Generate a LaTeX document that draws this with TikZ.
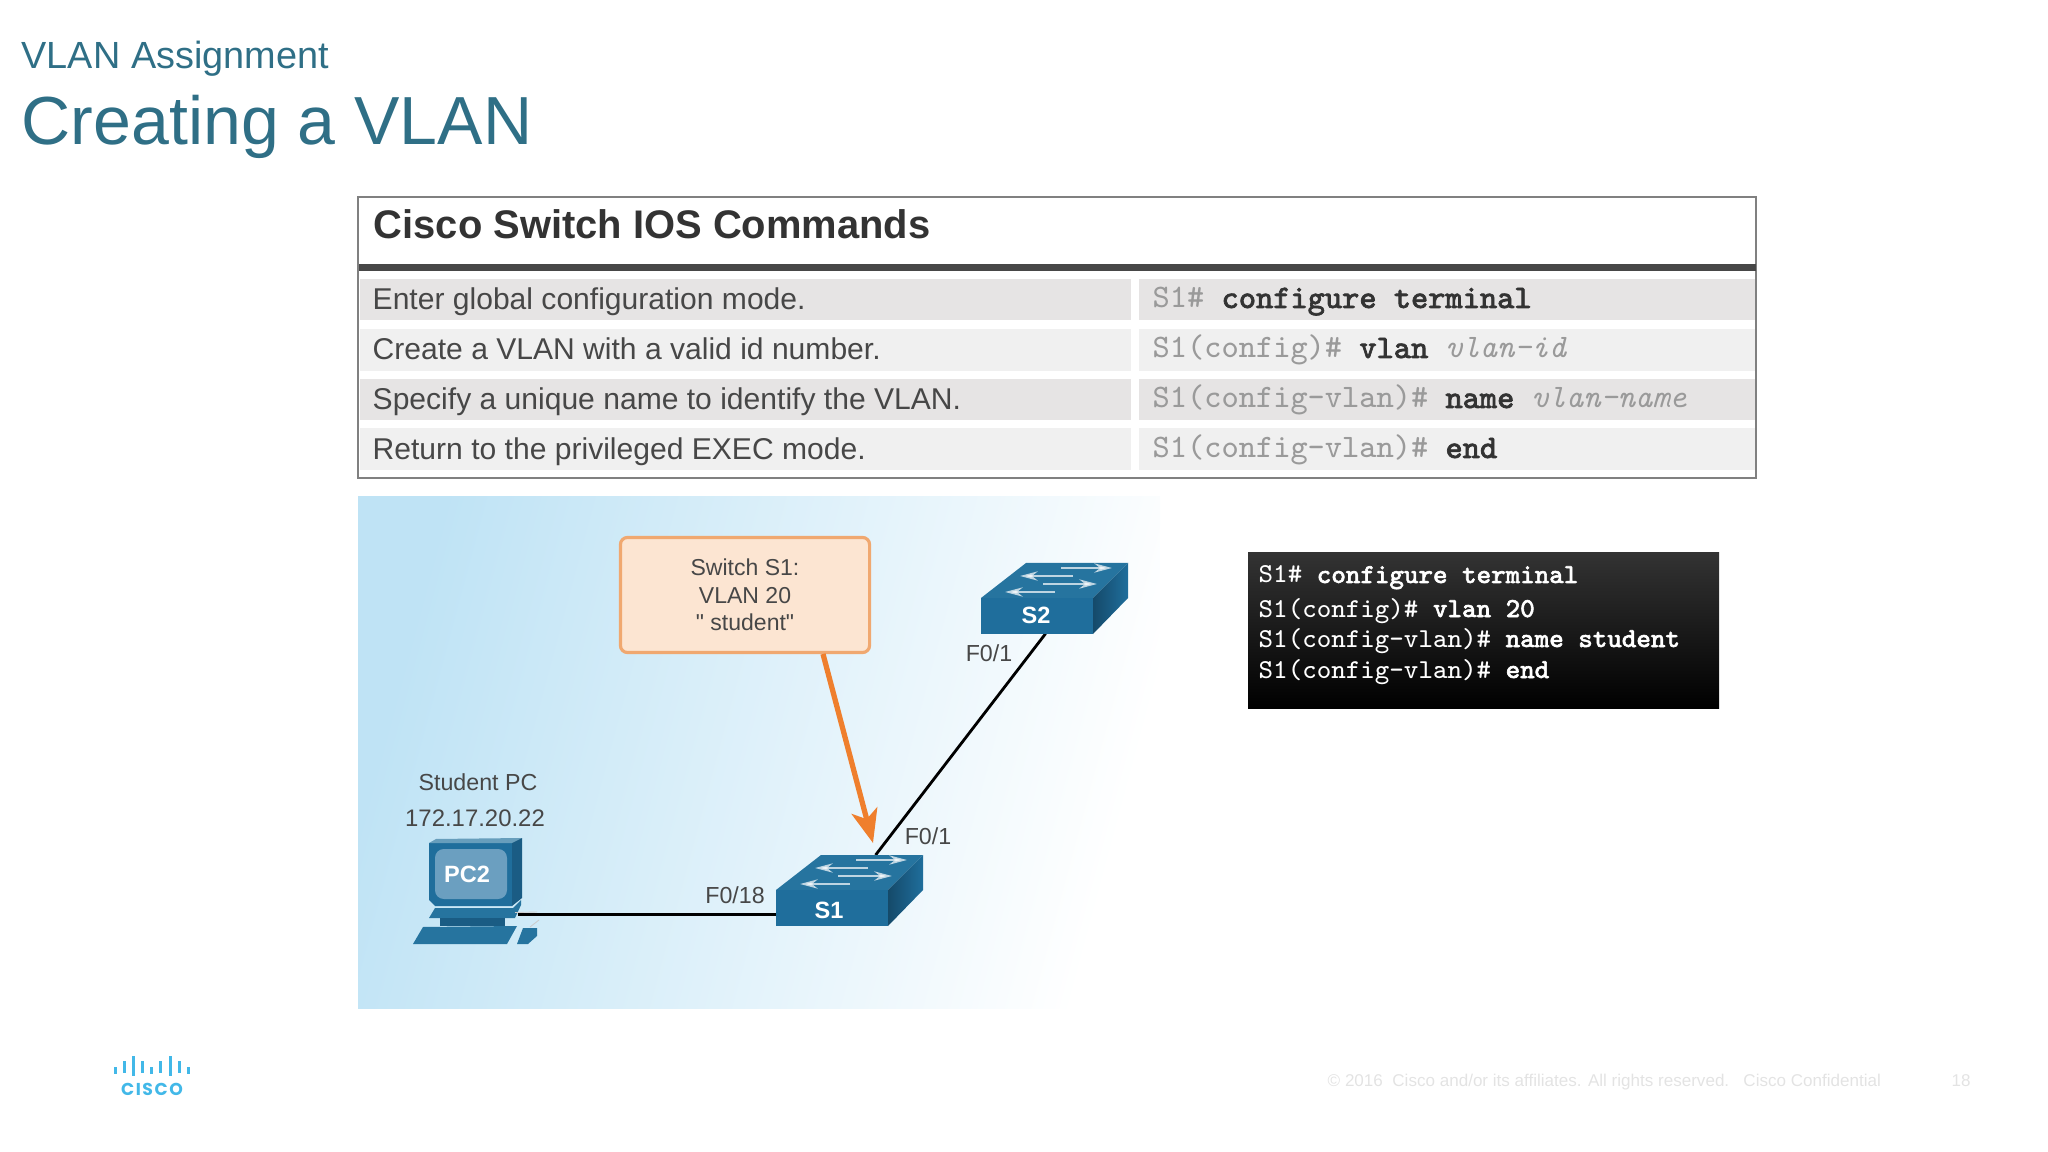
\documentclass[tikz,border=0pt]{standalone}
\usepackage{fontspec}
\setmainfont{Liberation Sans}
\newfontfamily\logofont[LetterSpace=9]{Poppins}
\newfontfamily\straightquote{Liberation Sans}
\newfontfamily\cmdheavy[FakeBold=2.2]{Latin Modern Mono}
\usetikzlibrary{arrows.meta}

\definecolor{slideteal}{HTML}{2F6F86}
\definecolor{rowdark}{HTML}{E6E4E4}
\definecolor{rowlight}{HTML}{F0F0F0}
\definecolor{promptgray}{HTML}{9A9A9A}
\definecolor{labelgray}{HTML}{474747}
\definecolor{skyleft}{HTML}{BFE3F5}
\definecolor{skymiddle}{HTML}{E4F2FB}
\definecolor{peachfill}{HTML}{FCE5D2}
\definecolor{peachline}{HTML}{F0A870}
\definecolor{switchfront}{HTML}{1F6E9C}
\definecolor{switchtop}{HTML}{26749F}
\definecolor{switchside}{HTML}{1A5C84}
\definecolor{screenblue}{HTML}{6B9FC0}
\definecolor{logoblue}{HTML}{42B8E8}
\definecolor{arroworange}{HTML}{EF7F2D}

\newcommand{\sized}[1]{\fontsize{#1}{#1}\selectfont}
\newcommand{\typedcmd}[1]{\textcolor{black!80}{\cmdheavy #1}}

\tikzset{
  plaintext/.style={inner sep=0, anchor=base west},
  rowtext/.style={plaintext, text=labelgray, font=\sized{8.55}},
  cmdtext/.style={plaintext, text=promptgray, font=\ttfamily\sized{9.33}},
  termtext/.style={plaintext, text=white, font=\ttfamily\sized{7.78}},
  netlabel/.style={inner sep=0, anchor=base, text=labelgray, font=\sized{6.6}},
  iconlabel/.style={inner sep=0, text=white, font=\bfseries\sized{6.7}},
  flowarrow/.style={white, opacity=0.7, line width=0.8pt, -{Stealth[length=5pt,width=2.6pt]}},
  switchicon/.pic={
    \fill[switchfront] (0,0) rectangle (112,36);
    \fill[switchtop] (0,0) -- (45,-35) -- (147,-35) -- (112,0) -- cycle;
    \shade[left color=switchside!80!black, right color=switchfront] (112,0) -- (147,-35) -- (147,0) -- (112,36) -- cycle;
    \draw[flowarrow] (80,-30) -- (131,-30);
    \draw[flowarrow] (92,-22) -- (39,-22);
    \draw[flowarrow] (62,-14) -- (116,-14);
    \draw[flowarrow] (74,-6) -- (24,-6);
  }
}

\begin{document}
\begin{tikzpicture}[x=0.01cm, y=-0.01cm]
  \useasboundingbox (0,0) rectangle (2048,1152);

  % slide title
  \node[plaintext, text=slideteal, font=\sized{10.76}] (subtitle) at (21,69) {VLAN Assignment};
  \node[plaintext, text=slideteal, font=\sized{19.35}] (title) at (21,145) {Creating a VLAN};

  % commands table
  \draw[gray, line width=0.4pt] (358,197) rectangle (1756,478);
  \fill[black!72] (359,264) rectangle (1756,271);
  \node[plaintext, text=black!80, font=\bfseries\sized{11.35}] (tablehead) at (373,239) {Cisco Switch IOS Commands};

  \fill[rowdark] (360,279) rectangle (1131,320);
  \fill[rowdark] (1139,279) rectangle (1755,320);
  \fill[rowlight] (360,329) rectangle (1131,371);
  \fill[rowlight] (1139,329) rectangle (1755,371);
  \fill[rowdark] (360,379) rectangle (1131,420);
  \fill[rowdark] (1139,379) rectangle (1755,420);
  \fill[rowlight] (360,428) rectangle (1131,470);
  \fill[rowlight] (1139,428) rectangle (1755,470);

  \node[rowtext] (stepa) at (372,310) {Enter global configuration mode.};
  \node[rowtext] (stepb) at (372,360) {Create a VLAN with a valid id number.};
  \node[rowtext] (stepc) at (372,409.5) {Specify a unique name to identify the VLAN.};
  \node[rowtext] (stepd) at (372,459.5) {Return to the privileged EXEC mode.};

  \node[cmdtext] (cmda) at (1152,308) {S1\# \typedcmd{configure terminal}};
  \node[cmdtext] (cmdb) at (1152,358) {S1(config)\# \typedcmd{vlan} \itshape vlan-id};
  \node[cmdtext] (cmdc) at (1152,408) {S1(config-vlan)\# \typedcmd{name} \itshape vlan-name};
  \node[cmdtext] (cmdd) at (1152,458) {S1(config-vlan)\# \typedcmd{end}};

  % topology background
  \shade[left color=skyleft, middle color=skymiddle, right color=white, shading angle=75] (358,497) rectangle (1160,1008);

  % links
  \coordinate (s1top) at (875.6,855);
  \coordinate (s2foot) at (1045.6,633.6);
  \coordinate (s1port) at (776,914.7);
  \coordinate (pcport) at (518,914.7);
  \draw[black, line width=0.8pt] (s1top) -- (s2foot);
  \draw[black, line width=0.8pt] (pcport) -- (s1port);

  % switches
  \pic at (776,890) {switchicon};
  \pic at (981,598) {switchicon};
  \node[iconlabel] (s1) at (829,910) {S1};
  \node[iconlabel] (s2) at (1036,615) {S2};

  % student pc
  \fill[switchfront] (429,843) -- (512,843) -- (512,906) -- (435,906) -- (429,900) -- cycle;
  \fill[switchtop!70!white] (429,843) -- (436,839) -- (522,838) -- (512,843) -- cycle;
  \fill[switchside] (512,843) -- (522,838) -- (522,898) -- (512,906) -- cycle;
  \fill[screenblue, rounded corners=2.5pt] (435,849) rectangle (507,899);
  \node[iconlabel] (pc) at (467,874) {PC2};
  \fill[switchtop] (429,918) -- (435,908) -- (513,908) -- (521,900) -- (521,905) -- (515,918) -- cycle;
  \fill[switchside] (440,918) -- (505,918) -- (505,926) -- (440,926) -- cycle;
  \fill[switchtop] (413,944) -- (423,927) -- (517,926) -- (507,944) -- cycle;
  \fill[switchtop] (517,944) -- (523,928) -- (537,928) -- (537,936) -- (528,944) -- cycle;
  \draw[white!60!gray, line width=0.25pt] (515,912.5) -- (537,912);
  \draw[white!60!gray, line width=0.25pt] (530,927) -- (539,920);

  % labels
  \node[netlabel] (pcname) at (478,790) {Student PC};
  \node[netlabel, font=\sized{6.8}] (pcaddr) at (475,826) {172.17.20.22};
  \node[netlabel] (porta) at (735,903) {F0/18};
  \node[netlabel] (portb) at (928,844) {F0/1};
  \node[netlabel] (portc) at (989,661) {F0/1};

  % callout
  \node[draw=peachline, fill=peachfill, line width=0.9pt, rounded corners=2pt,
        minimum width=2.49cm, minimum height=1.15cm, align=center, text=labelgray,
        font=\fontsize{6.55}{7.8}\selectfont] (callout) at (745,595) {Switch S1:\\VLAN 20\\{\straightquote"} student{\straightquote"}};
  \coordinate (calloutfoot) at (823,654);
  \coordinate (s1tip) at (873,843);
  \draw[arroworange, line width=1.5pt, -{Stealth[length=9.5pt,width=7.5pt,inset=2.5pt]}] (calloutfoot) -- (s1tip);

  % terminal output
  \shade[top color=black!80, bottom color=black] (1248,553) rectangle (1719,708);
  \node[termtext] (terma) at (1258,583) {S1\# {\cmdheavy configure terminal}};
  \node[termtext] (termb) at (1258,617) {S1(config)\# {\cmdheavy vlan 20}};
  \node[termtext] (termc) at (1258,647) {S1(config-vlan)\# {\cmdheavy name student}};
  \node[termtext] (termd) at (1258,678) {S1(config-vlan)\# {\cmdheavy end}};

  % footer
  \fill[logoblue] (113.5,1066.5) rectangle (116.5,1073.5);
  \fill[logoblue] (122.5,1061) rectangle (125.5,1073);
  \fill[logoblue] (131.8,1056) rectangle (134.8,1076);
  \fill[logoblue] (140.8,1061) rectangle (143.8,1073);
  \fill[logoblue] (150.2,1066.5) rectangle (153.2,1073.5);
  \fill[logoblue] (159.2,1061) rectangle (162.2,1073);
  \fill[logoblue] (168.5,1056) rectangle (171.5,1076);
  \fill[logoblue] (177.5,1061) rectangle (180.5,1073);
  \fill[logoblue] (186.8,1066.5) rectangle (189.8,1073.5);
  \node[inner sep=0, anchor=base, text=logoblue, font=\logofont\bfseries\sized{4.9}] (logo) at (152,1095) {CISCO};
  \node[plaintext, text=black!11, font=\sized{4.85}] (legal) at (1327,1086) {© 2016\ \ Cisco and/or its affiliates. All rights reserved.\ \ \ Cisco Confidential};
  \node[inner sep=0, anchor=base, text=black!11, font=\sized{4.85}] (page) at (1961,1086) {18};
\end{tikzpicture}
\end{document}
